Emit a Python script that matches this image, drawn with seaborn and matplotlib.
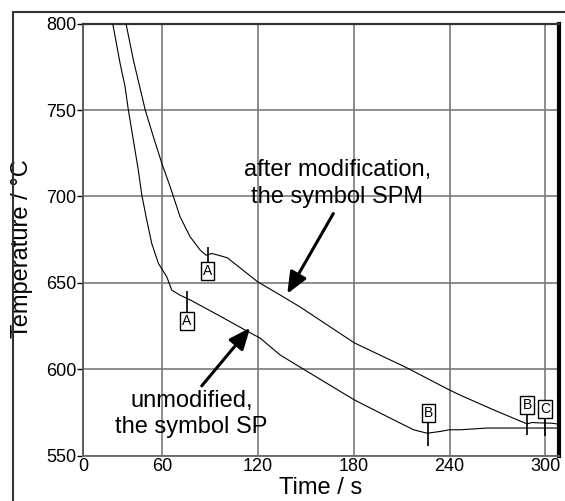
import numpy as np
import pandas as pd
import matplotlib
matplotlib.use("Agg")
import matplotlib.pyplot as plt
from matplotlib.lines import Line2D
import seaborn as sns

# =============================================================================
# DATA
# =============================================================================

# unmodified alloy, symbol SP
sp_time = [29.3, 33.9, 37.0, 39.0, 42.2, 45.3, 47.5, 50.6, 53.7, 57.9, 63.1,
           66.2, 71.4, 73.5, 78.0, 95.0, 115.5, 121.6, 134.0, 146.6, 180.4,
           203.0, 217.5, 226.0, 234.0, 240.0, 246.8, 263.5, 308.5]
sp_temp = [800.0, 777.0, 763.6, 750.5, 732.6, 715.2, 700.8, 686.3, 672.8, 661.2,
           653.5, 645.8, 642.9, 642.0, 640.0, 631.5, 621.0, 618.0, 608.3, 601.2,
           582.3, 571.7, 565.0, 563.0, 564.0, 565.0, 565.0, 566.0, 566.0]

# after modification, symbol SPM
spm_time = [37.6, 42.2, 49.5, 54.7, 60.0, 65.2, 71.4, 77.7, 84.0, 87.7, 91.3,
            95.4, 101.0, 120.0, 134.0, 146.6, 180.4, 213.4, 240.0, 246.8,
            267.6, 288.5, 291.5, 296.0, 304.0, 308.5]
spm_temp = [800.0, 779.0, 750.5, 734.6, 719.2, 705.7, 688.3, 676.7, 669.0, 666.0,
            667.0, 666.0, 664.5, 650.6, 643.0, 636.0, 615.3, 600.8, 588.0, 585.0,
            576.5, 568.4, 569.2, 569.0, 568.8, 568.2]

# characteristic points A, B, C
mark_labels = ["A", "A", "B", "B", "C"]
mark_time = [88.6, 75.8, 226.7, 288.5, 300.0]
mark_box_temp = [656.8, 628.1, 574.7, 579.3, 576.9]
mark_tick_lo = [661.3, 633.0, 555.6, 562.0, 561.4]
mark_tick_hi = [670.6, 645.5, 569.0, 574.9, 572.4]

# axis ticks (the "0" label sits at the left edge of the recorded window)
x_ticks = [10.7, 60, 120, 180, 240, 300]
x_tick_labels = ["0", "60", "120", "180", "240", "300"]
y_ticks = [550, 600, 650, 700, 750, 800]

df = pd.concat([
    pd.DataFrame({"Time": sp_time, "Temp": sp_temp, "alloy": "SP"}),
    pd.DataFrame({"Time": spm_time, "Temp": spm_temp, "alloy": "SPM"}),
])

# =============================================================================
# PLOT
# =============================================================================

sns.set_theme(style="white")
plt.rcParams['font.family'] = ['Liberation Sans', 'DejaVu Sans']
plt.rcParams['text.color'] = 'black'
plt.rcParams['axes.labelcolor'] = 'black'

fig = plt.figure(figsize=(5.65, 5.01), dpi=100)
ax = fig.add_axes([83 / 565, 1 - 455.7 / 501, (559 - 83) / 565, (455.7 - 23.6) / 501])

sns.lineplot(data=df, x="Time", y="Temp", units="alloy", estimator=None,
             color="black", lw=0.8, ax=ax, legend=False, zorder=3)

ax.set_xlim(10.7, 308.5)
ax.set_ylim(550, 800)
ax.set_xticks(x_ticks)
ax.set_xticklabels(x_tick_labels)
ax.set_yticks(y_ticks)
ax.grid(True, color="#7a7a7a", lw=1.2)
ax.set_axisbelow(True)

ax.tick_params(axis="x", length=0, pad=2, labelsize=13, colors="black")
ax.tick_params(axis="y", length=4, width=1, pad=1, labelsize=13,
               left=True, colors="black")

for side, (c, w) in {"left": ("#555555", 1.3), "bottom": ("#666666", 1.3),
                     "top": ("#333333", 1.6), "right": ("black", 3.0)}.items():
    ax.spines[side].set_color(c)
    ax.spines[side].set_linewidth(w)

ax.set_xlabel("Time / s", fontsize=17)
ax.set_ylabel("Temperature / °C", fontsize=17)
ax.xaxis.set_label_coords(0.5, -0.05)
ax.yaxis.set_label_coords(-0.105, 0.48)

# characteristic point markers
ax.vlines(mark_time, mark_tick_lo, mark_tick_hi, color="black", lw=1.2, zorder=4)
for lab, t, T in zip(mark_labels, mark_time, mark_box_temp):
    ax.text(t, T, lab, ha="center", va="center", fontsize=10, zorder=5,
            bbox=dict(boxstyle="square,pad=0.15", fc="white", ec="black", lw=1.0))

# labels with arrows
ax.text(169.8, 707.5, "after modification,\nthe symbol SPM", ha="center",
        va="center", fontsize=17, linespacing=1.25, zorder=5)
ax.annotate("", xy=(138.5, 643.7), xytext=(167.3, 690.1),
            arrowprops=dict(arrowstyle="-|>,head_length=1.3,head_width=0.55",
                            lw=2.2, color="black", shrinkA=0, shrinkB=0,
                            mutation_scale=10), zorder=5)

ax.text(78.6, 574.1, "unmodified,\nthe symbol SP", ha="center",
        va="center", fontsize=17, linespacing=1.25, zorder=5)
ax.annotate("", xy=(115.3, 624.0), xytext=(85.0, 590.4),
            arrowprops=dict(arrowstyle="-|>,head_length=1.3,head_width=0.55",
                            lw=2.2, color="black", shrinkA=0, shrinkB=0,
                            mutation_scale=10), zorder=5)

# outer frame of the figure (left and top edges visible)
fx, fy = 13 / 565, 1 - 12 / 501
fig.add_artist(Line2D([fx, fx], [0, fy], transform=fig.transFigure,
                      color="#333333", lw=1.5))
fig.add_artist(Line2D([fx, 1], [fy, fy], transform=fig.transFigure,
                      color="#333333", lw=1.5))

fig.savefig("out.png", dpi=100)
